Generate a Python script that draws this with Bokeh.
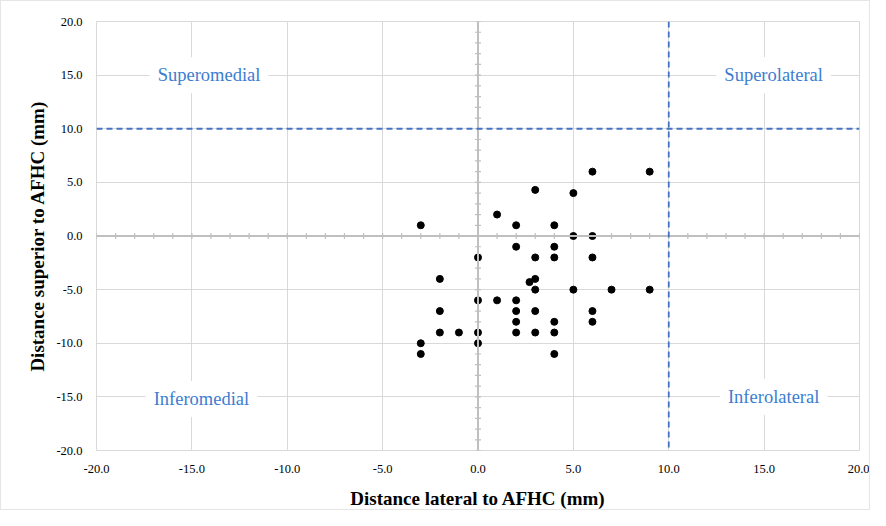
import numpy as np
from bokeh.plotting import figure
from bokeh.models import Range1d, FixedTicker, NumeralTickFormatter, Span, Label
from bokeh.embed import file_html
from bokeh.resources import INLINE

# ---- data ----
lateral = [-3, 1, 2, 3, 4, 5, 6, 9, 5, 6, 2, 4, 0, 3, 4, 6, -2, 3, 2.7, 3, 5, 7, 9,
           0, 1, 2, -2, 2, 3, 6, 2, 4, 6, -2, -1, 0, 2, 3, 4, -3, 0, -3, 4]
superior = [1, 2, 1, 4.3, 1, 4, 6, 6, 0, 0, -1, -1, -2, -2, -2, -2, -4, -4, -4.3, -5, -5, -5, -5,
            -6, -6, -6, -7, -7, -7, -7, -8, -8, -8, -9, -9, -9, -9, -9, -9, -10, -10, -11, -11]
axis_ticks = [-20, -15, -10, -5, 0, 5, 10, 15, 20]
quadrant_names = ["Superomedial", "Superolateral", "Inferomedial", "Inferolateral"]
threshold = 10

SERIF = "Liberation Serif"
BLUE = "#4472C4"
TXTBLUE = "#3C7DD0"
GRID = "#d9d9d9"
AXC = "#bfbfbf"

p = figure(width=870, height=510, output_backend="svg", toolbar_location=None,
           x_range=Range1d(-20, 20), y_range=Range1d(-20, 20),
           min_border_left=95, min_border_right=12, min_border_top=20, min_border_bottom=58)
p.styles = {"border": "1px solid #e6e6e6", "box-sizing": "border-box"}
p.outline_line_color = GRID

for ax in (p.xaxis[0], p.yaxis[0]):
    ax.ticker = FixedTicker(ticks=axis_ticks)
    ax.formatter = NumeralTickFormatter(format="0.0")
    ax.axis_line_color = None
    ax.major_tick_line_color = None
    ax.minor_tick_line_color = None
    ax.major_label_text_font = SERIF
    ax.major_label_text_font_size = "12.5px"
    ax.major_label_text_color = "#000000"
    ax.axis_label_text_font = SERIF
    ax.axis_label_text_font_style = "bold"
    ax.axis_label_text_font_size = "19px"
    ax.axis_label_text_color = "#000000"
    ax.major_label_standoff = 8

p.xaxis.axis_label = "Distance lateral to AFHC (mm)"
p.yaxis.axis_label = "Distance superior to AFHC (mm)"
p.xaxis.axis_label_standoff = 12
p.yaxis.axis_label_standoff = 5

p.xgrid.ticker = FixedTicker(ticks=axis_ticks)
p.ygrid.ticker = FixedTicker(ticks=axis_ticks)
p.grid.grid_line_color = GRID
p.grid.grid_line_width = 1

# central axes with minor tick marks
p.add_layout(Span(location=0, dimension="height", line_color=AXC, line_width=2))
p.add_layout(Span(location=0, dimension="width", line_color=AXC, line_width=2))
minor = np.arange(-20, 21, 1)
p.scatter(np.zeros_like(minor), minor, marker="dash", size=6, line_color=AXC, line_width=1.2)
p.scatter(minor, np.zeros_like(minor), marker="dash", angle=np.pi / 2, size=6,
          line_color=AXC, line_width=1.2)

# threshold dashed lines
p.add_layout(Span(location=threshold, dimension="width", line_color=BLUE,
                  line_width=1.8, line_dash="6 4"))
p.add_layout(Span(location=threshold, dimension="height", line_color=BLUE,
                  line_width=1.8, line_dash="6 4"))

# quadrant labels
label_pos = [(-14.1, 15), (15.5, 15), (-14.5, -15.2), (15.5, -15)]
for name, (lx, ly) in zip(quadrant_names, label_pos):
    p.add_layout(Label(x=lx, y=ly, text=name, text_align="center", text_baseline="middle",
                       text_font=SERIF, text_font_size="18.5px", text_color=TXTBLUE,
                       background_fill_color="white", padding=8))

p.scatter(lateral, superior, size=7, color="black")

open("out.html", "w").write(file_html(p, INLINE))
